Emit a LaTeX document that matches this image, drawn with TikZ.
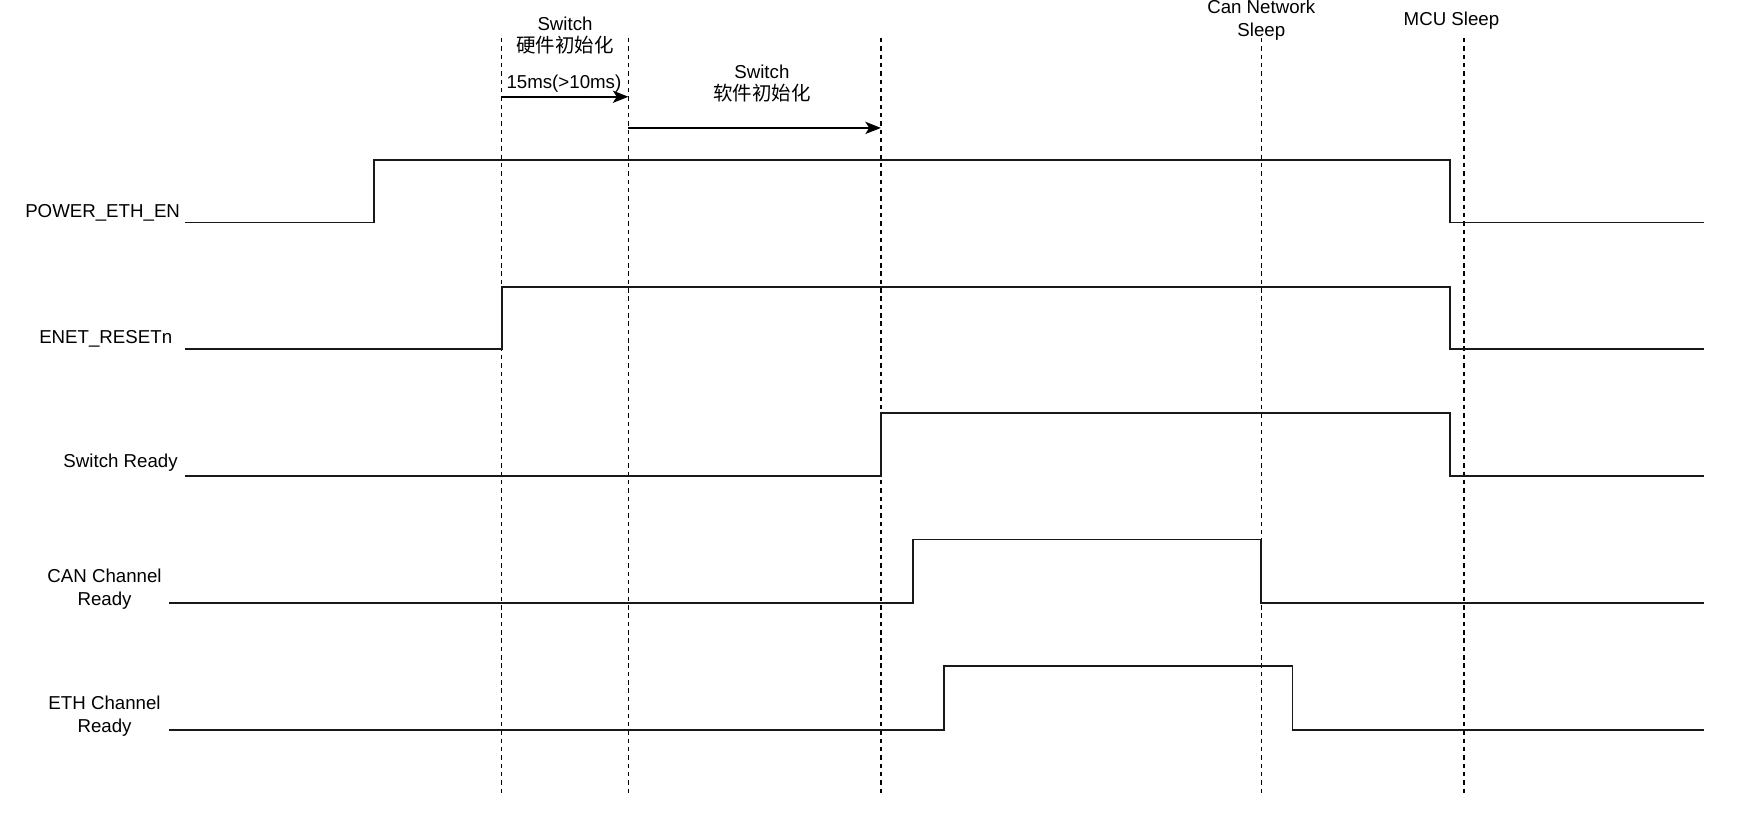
\documentclass[tikz,border=0pt]{standalone}
\usepackage{fontspec}
\setmainfont{Liberation Sans}
\newfontfamily\cjk{Noto Sans CJK SC}
\usetikzlibrary{arrows.meta}
\tikzset{
  wave/.style={line width=1.7pt, line join=miter, draw=black!90},
  marker/.style={line width=1.4pt, dash pattern=on 4pt off 3.5pt},
  lbl/.style={inner sep=0pt, font=\fontsize{16.8}{20.5}\selectfont, align=center},
  sig/.style={lbl, anchor=east},
  span/.style={line width=1.6pt, -{Stealth[length=14pt,width=11pt,inset=3.5pt]}},
}
\begin{document}
\begin{tikzpicture}[x=1pt,y=-1pt]
\useasboundingbox (0,0) rectangle (1568,740);
% time markers
\foreach \n/\x in {ta/451, tb/565, tc/792, td/1134, te/1316}{
  \coordinate (\n top) at (\x,34);
  \coordinate (\n bot) at (\x,715);
  \draw[marker] (\n top) -- (\n bot);
}
% span arrows
\coordinate (a1s) at (451,87);
\coordinate (a1e) at (565,87);
\coordinate (a2s) at (565,115);
\coordinate (a2e) at (792,115);
\draw[span] (a1s) -- (a1e);
\draw[span] (a2s) -- (a2e);
% top labels
\node[lbl] (hw) at (508,32) {Switch\\{\cjk\fontsize{17.5}{20.5}\selectfont 硬件初始化}};
\node[lbl] (hwt) at (507,75) {15ms(>10ms)};
\node[lbl] (sw) at (685,75) {Switch\\{\cjk\fontsize{17.5}{20.5}\selectfont 软件初始化}};
\node[lbl] (cns) at (1134,18) {Can Network\\Sleep};
\node[lbl] (mcu) at (1305,19) {MCU Sleep};
% signal labels
\node[sig] (l1) at (162,191) {POWER\_ETH\_EN};
\node[sig] (l2) at (155,305) {ENET\_RESETn};
\node[sig] (l3) at (160,416) {Switch Ready};
\node[lbl] (l4) at (94,530) {CAN Channel\\Ready};
\node[lbl] (l5) at (94,644) {ETH Channel\\Ready};
% waveforms
\draw[wave] (166,200) -- (336,200) -- (336,144) -- (1304,144) -- (1304,200) -- (1532,200);
\draw[wave] (166,314) -- (451,314) -- (451,258) -- (1304,258) -- (1304,314) -- (1532,314);
\draw[wave] (166,428) -- (792,428) -- (792,371) -- (1304,371) -- (1304,428) -- (1532,428);
\draw[wave] (152,542) -- (821,542) -- (821,485) -- (1134,485) -- (1134,542) -- (1532,542);
\draw[wave] (152,656) -- (849,656) -- (849,599) -- (1162,599) -- (1162,656) -- (1532,656);
\end{tikzpicture}
\end{document}
